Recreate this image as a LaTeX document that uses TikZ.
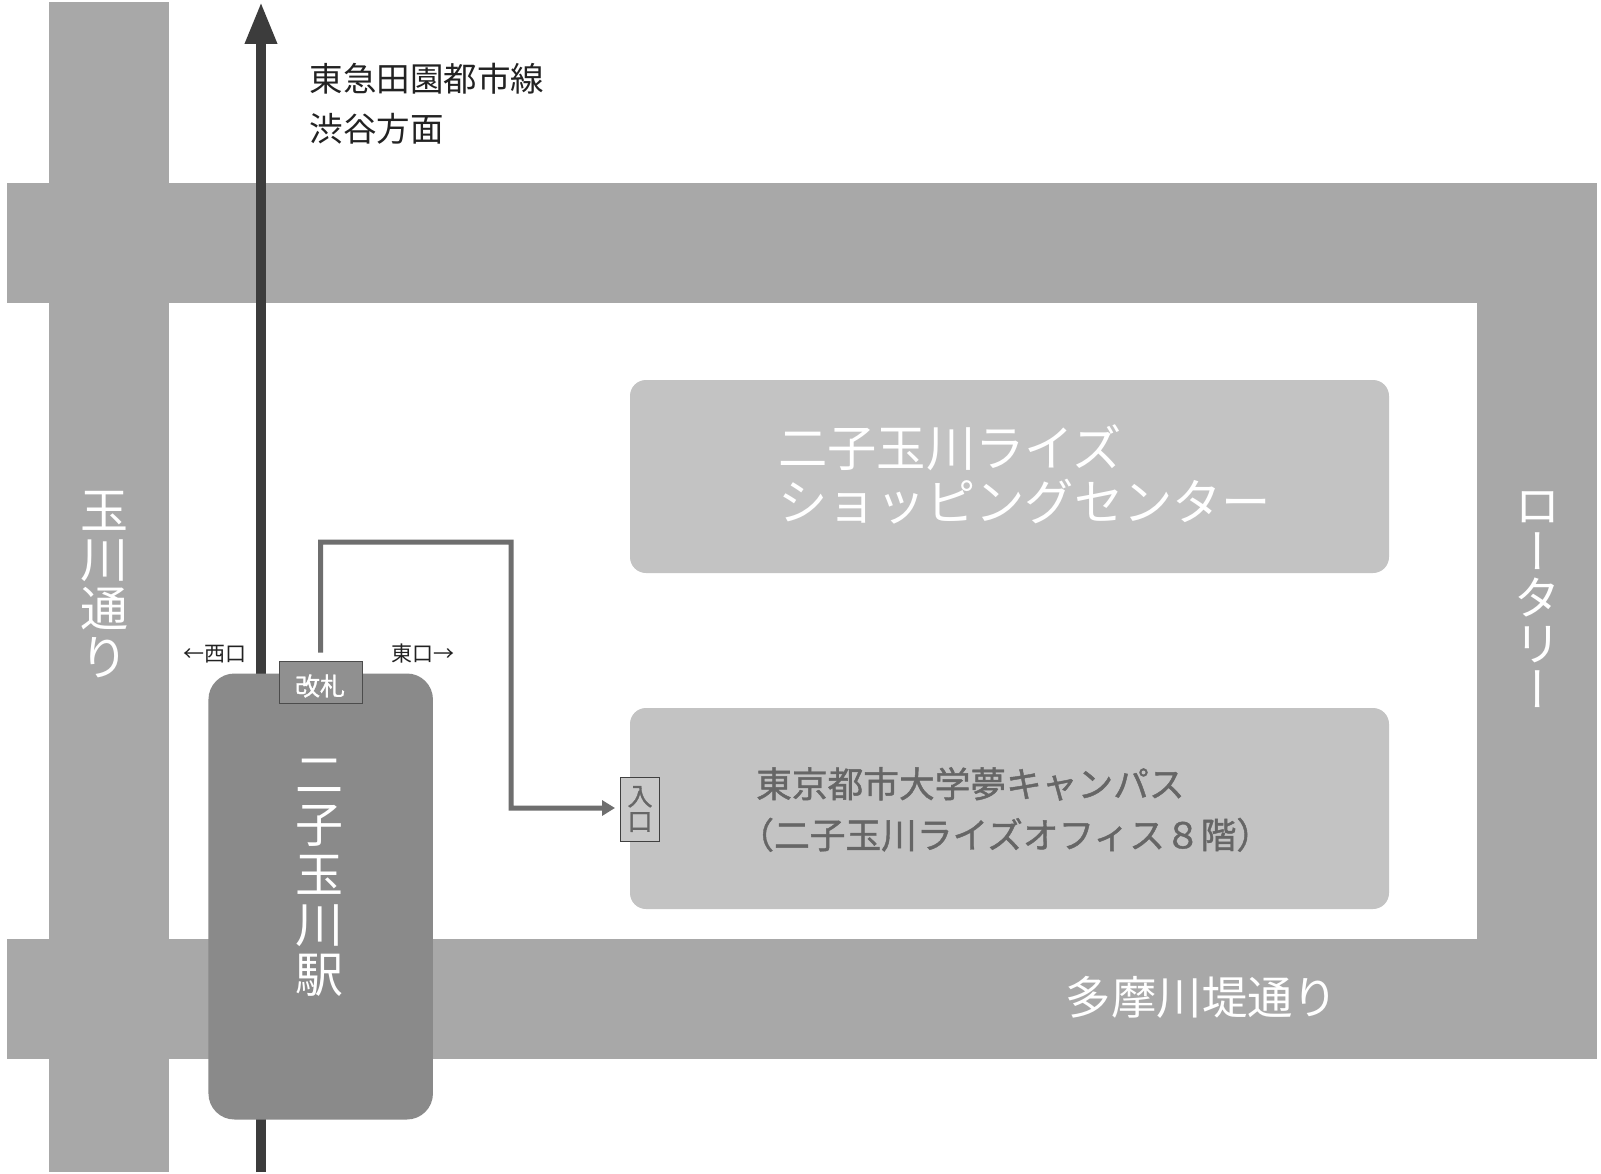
\documentclass[tikz,border=0pt]{standalone}
\usepackage{fontspec}
\setmainfont{Noto Sans CJK JP}
\newfontfamily\vertfont[RawFeature={+vert}]{Noto Sans CJK JP}
\newfontfamily\medfont[FakeBold=1.2]{Noto Sans CJK JP}
\usetikzlibrary{arrows.meta}
\definecolor{roadgray}{HTML}{A8A8A8}
\definecolor{bldggray}{HTML}{C3C3C3}
\definecolor{stationgray}{HTML}{8A8A8A}
\definecolor{railgray}{HTML}{3C3C3C}
\definecolor{routegray}{HTML}{6E6E6E}
\definecolor{textgray}{HTML}{666666}
\definecolor{inkgray}{HTML}{222222}
\tikzset{
  road/.style={fill=roadgray,draw=none},
  bldg/.style={fill=bldggray,draw=none,rounded corners=16pt,inner sep=0pt,minimum width=759pt},
  station/.style={fill=stationgray,draw=none,rounded corners=26pt,inner sep=0pt,minimum width=224.5pt,minimum height=446pt},
  gate/.style={fill=stationgray!95!white,draw=black!70,line width=1pt,inner sep=0pt,minimum width=83pt,minimum height=42pt},
  gatetext/.style={inner sep=0pt,text=white,font=\fontsize{25}{25}\selectfont\medfont},
  entry/.style={fill=bldggray!90!white,draw=black!75,line width=1pt,inner sep=0pt,minimum width=39pt,minimum height=64pt,text=textgray,align=center,font=\fontsize{25}{25}\selectfont\medfont},
  rail/.style={draw=railgray,line width=9.5pt,-{Triangle[width=30pt,length=42pt]}},
  route/.style={draw=routegray,line width=5pt,-{Triangle[width=15pt,length=13pt]}},
  lab/.style={inner sep=0pt,anchor=west,align=left},
  vlab/.style={inner sep=0pt,align=center,text=white},
}
\begin{document}
\begin{tikzpicture}[x=1pt,y=-1pt]
\useasboundingbox (0,0) rectangle (1601,1174);
\fill[white] (0,0) rectangle (1601,1174);
% roads
\fill[road] (49,2) rectangle (169,1172);
\fill[road] (7,183) rectangle (1597,303);
\fill[road] (7,939) rectangle (1597,1059);
\fill[road] (1477,183) rectangle (1597,1059);
% buildings
\node[bldg,minimum height=193pt] (shop) at (1009.5,476.5) {};
\node[bldg,minimum height=201pt] (yume) at (1009.5,808.5) {};
% rail
\coordinate (railS) at (261,1172);
\coordinate (railN) at (261,2);
\draw[rail] (railS) -- (railN);
% station
\node[station] (sta) at (320.7,896.5) {};
\node[gate] (gate) at (320.5,682) {};
\node[gatetext] (gatet) at (320,686) {改札};
\node[entry] (ent) at (640,809) {入\\口};
% route
\coordinate (r1) at (320.7,542);
\coordinate (r2) at (511,542);
\coordinate (r3) at (511,808);
\draw[route,rounded corners=0pt,shorten <=8pt,shorten >=5pt] (gate.north) -- (r1) -- (r2) -- (r3) -- (ent.west |- r3);
% labels
\node[lab,text=inkgray,font=\fontsize{33.5}{50}\selectfont] (line) at (309.5,104) {東急田園都市線\\渋谷方面};
\node[lab,text=white,font=\fontsize{49.3}{54}\selectfont] (shopt) at (778,474) {二子玉川ライズ\\ショッピングセンター};
\node[lab,text=textgray,font=\fontsize{35.7}{51}\selectfont\medfont] (yumet) at (756,809.5) {東京都市大学夢キャンパス\\\hspace{-.5em}（二子玉川ライズオフィス８階）};
\node[inner sep=0pt,text=inkgray,font=\fontsize{21}{21}\selectfont] (west) at (214.5,654) {←西口};
\node[inner sep=0pt,text=inkgray,font=\fontsize{21}{21}\selectfont] (east) at (423,654) {東口→};
\node[vlab,font=\fontsize{48}{49}\selectfont] (tama) at (104,585) {玉\\川\\通\\り};
\node[vlab,font=\fontsize{47}{46}\selectfont\vertfont] (rota) at (1538,600) {ロ\\ー\\タ\\リ\\ー};
\node[vlab,font=\fontsize{48}{50}\selectfont] (stat) at (319,878) {二\\子\\玉\\川\\駅};
\node[inner sep=0pt,text=white,font=\fontsize{45.4}{45.4}\selectfont] (tsut) at (1202,997) {多摩川堤通り};
\end{tikzpicture}
\end{document}
